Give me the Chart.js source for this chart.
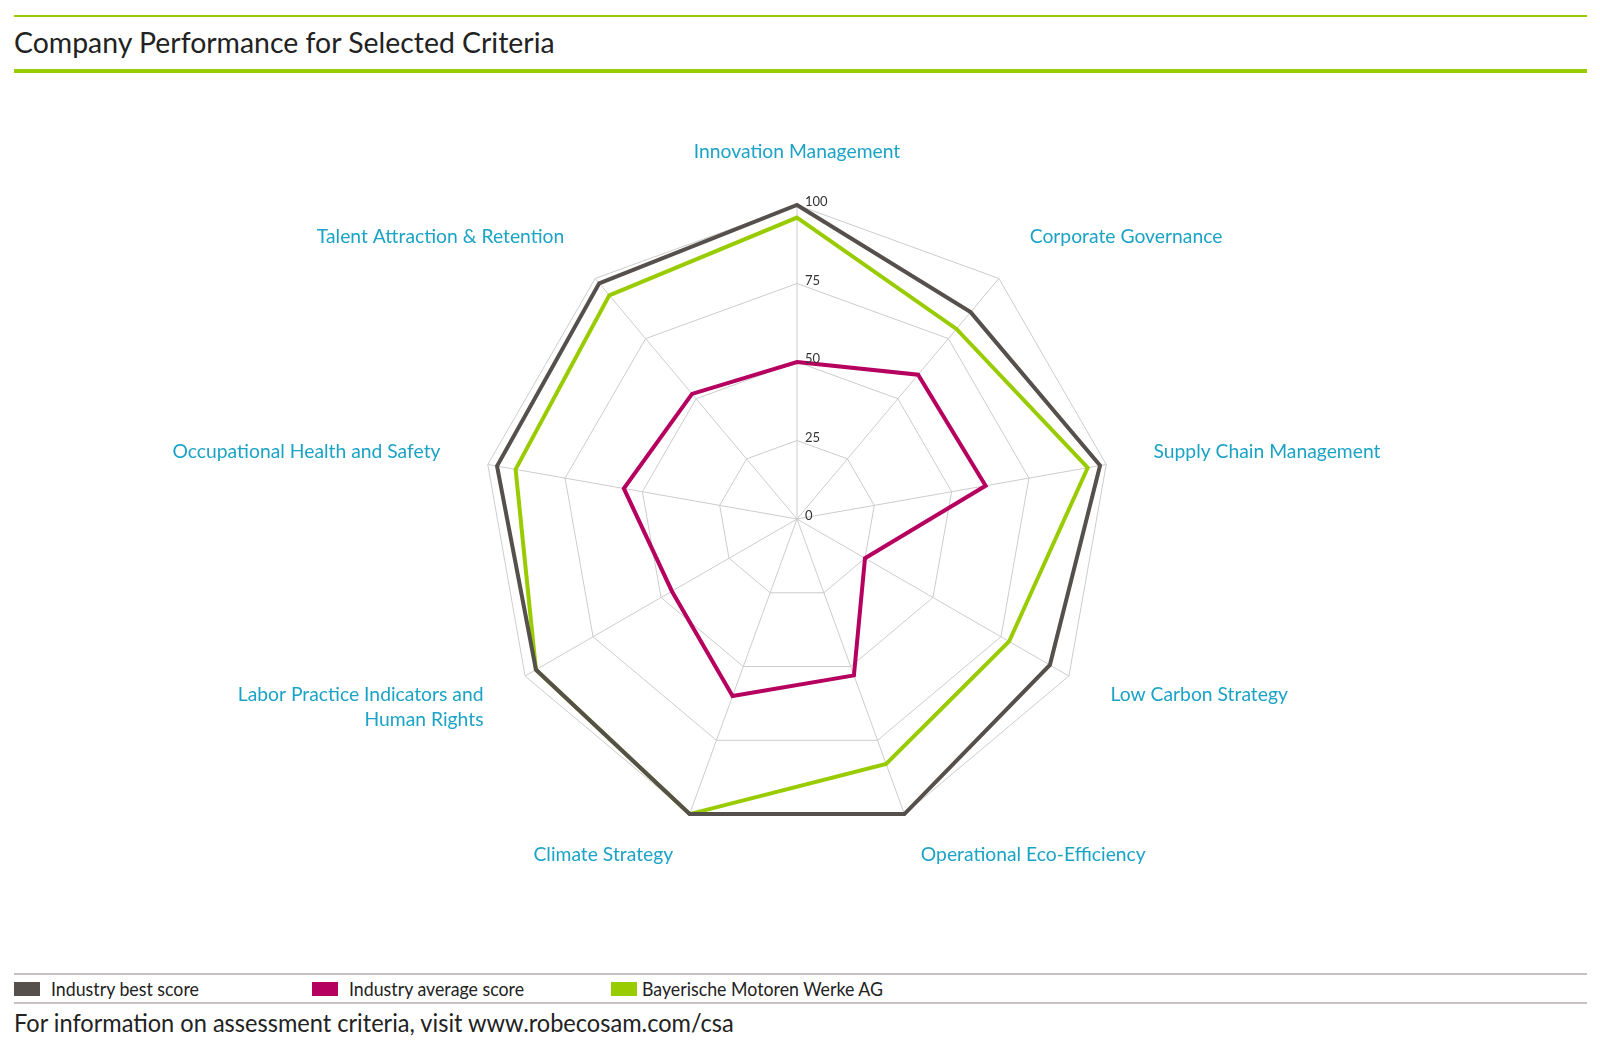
<!DOCTYPE html>
<html>
<head>
<meta charset="utf-8">
<script src="https://cdn.jsdelivr.net/npm/chart.js@4.4.1/dist/chart.umd.min.js"></script>
<style>
    body { margin: 0; background: #fff; }
    #page { position: relative; width: 1600px; height: 1056px; overflow: hidden; background: #fff; font-family: Lato, "Liberation Sans", sans-serif; color: #222; }
    .rule { position: absolute; left: 14px; width: 1573px; }
    .txt { position: absolute; white-space: nowrap; line-height: 1; transform-origin: 0 50%; }
    .swatch { position: absolute; width: 26px; height: 14px; top: 982px; }
    canvas { position: absolute; left: 0; top: 0; }
</style>
</head>
<body>
<div id="page">
    <div class="rule" style="top:15px;height:2px;background:#99cc00"></div>
    <div class="txt" style="left:14px;top:28px;font-size:28px;transform:scaleX(1.015)">Company Performance for Selected Criteria</div>
    <div class="rule" style="top:69px;height:4px;background:#99cc00"></div>

    <canvas id="radar" width="1600" height="940"></canvas>

    <div class="rule" style="top:973px;height:2px;background:#c9c1c1"></div>
    <div id="legend"></div>
    <div class="rule" style="top:1002px;height:2px;background:#c9c1c1"></div>
    <div class="txt" style="left:14px;top:1010px;font-size:25.7px;transform:scaleX(0.918)">For information on assessment criteria, visit www.robecosam.com/csa</div>
</div>

<script>
// kategorie (osie wykresu), zgodnie z ruchem wskazówek zegara od góry
const criteria = [
    'Innovation Management',
    'Corporate Governance',
    'Supply Chain Management',
    'Low Carbon Strategy',
    'Operational Eco-Efficiency',
    'Climate Strategy',
    ['Labor Practice Indicators and', 'Human Rights'],
    'Occupational Health and Safety',
    'Talent Attraction & Retention'
];

const bestScore = [100, 86, 98, 93, 100, 100, 96, 97, 98];
const averageScore = [50, 60, 61, 25, 53, 60, 46, 56, 52];
const bmwScore = [96, 79, 94, 78, 83, 100, 96, 91, 93];

const tickValues = [0, 25, 50, 75, 100];

const seriesNames = ['Industry best score', 'Industry average score', 'Bayerische Motoren Werke AG'];
const seriesColors = ['#55504c', '#b5005f', '#99cc00'];

// legenda pod wykresem
const legendX = [14, 312, 611];
const legendTextX = [51, 349, 642];
const legend = document.getElementById('legend');
seriesNames.forEach(function(name, i) {
    const sw = document.createElement('div');
    sw.className = 'swatch';
    sw.style.left = legendX[i] + 'px';
    sw.style.background = seriesColors[i];
    legend.appendChild(sw);
    const t = document.createElement('div');
    t.className = 'txt';
    t.style.left = legendTextX[i] + 'px';
    t.style.top = '979px';
    t.style.fontSize = '19px';
    t.style.transform = 'scaleX(0.935)';
    t.textContent = name;
    legend.appendChild(t);
});

// etykiety osi i wartości skali rysowane obok osi (jak w oryginale)
const radarLabels = {
    id: 'radarLabels',
    afterDraw(chart) {
        const scale = chart.scales.r;
        const ctx = chart.ctx;
        ctx.save();
        ctx.font = '20px Lato, "Liberation Sans", sans-serif';
        ctx.fillStyle = '#1ba3c6';
        ctx.textBaseline = 'middle';
        criteria.forEach(function(label, i) {
            const angle = scale.getIndexAngle(i);
            const p = scale.getPointPosition(i, scale.drawingArea + 48);
            const s = Math.sin(angle);
            ctx.textAlign = Math.abs(s) < 0.01 ? 'center' : (s > 0 ? 'left' : 'right');
            [].concat(label).forEach(function(line, k) {
                ctx.save();
                ctx.translate(p.x, p.y - 5 + k * 25);
                ctx.scale(0.965, 1);
                ctx.fillText(line, 0, 0);
                ctx.restore();
            });
        });

        ctx.font = '13px Lato, "Liberation Sans", sans-serif';
        ctx.fillStyle = '#333';
        ctx.textAlign = 'left';
        ctx.textBaseline = 'alphabetic';
        scale.ticks.forEach(function(tick) {
            const p = scale.getPointPositionForValue(0, tick.value);
            ctx.fillText(tick.label, p.x + 8, p.y + 1);
        });
        ctx.restore();
    }
};

document.addEventListener("DOMContentLoaded", function() {
    const ctx = document.getElementById('radar').getContext('2d');
    new Chart(ctx, {
        type: 'radar',
        data: {
            labels: criteria,
            datasets: [
                { label: seriesNames[0], data: bestScore, borderColor: seriesColors[0] },
                { label: seriesNames[1], data: averageScore, borderColor: seriesColors[1] },
                { label: seriesNames[2], data: bmwScore, borderColor: seriesColors[2] }
            ].map(function(ds) {
                return Object.assign(ds, { fill: false, backgroundColor: 'transparent', borderWidth: 4, clip: false });
            })
        },
        options: {
            responsive: false,
            animation: false,
            layout: { padding: { top: 205, bottom: 107, left: 0, right: 6 } },
            elements: {
                line: { tension: 0, borderJoinStyle: 'miter' },
                point: { radius: 0, hoverRadius: 0 }
            },
            plugins: {
                legend: { display: false },
                tooltip: { enabled: false }
            },
            scales: {
                r: {
                    min: 0,
                    max: 100,
                    afterBuildTicks: function(scale) {
                        scale.ticks = tickValues.map(function(v) { return { value: v }; });
                    },
                    ticks: { display: false },
                    grid: { color: '#cccccc', lineWidth: 1 },
                    angleLines: { color: '#cccccc', lineWidth: 1 },
                    pointLabels: { display: false }
                }
            }
        },
        plugins: [radarLabels]
    });
});
</script>
</body>
</html>
